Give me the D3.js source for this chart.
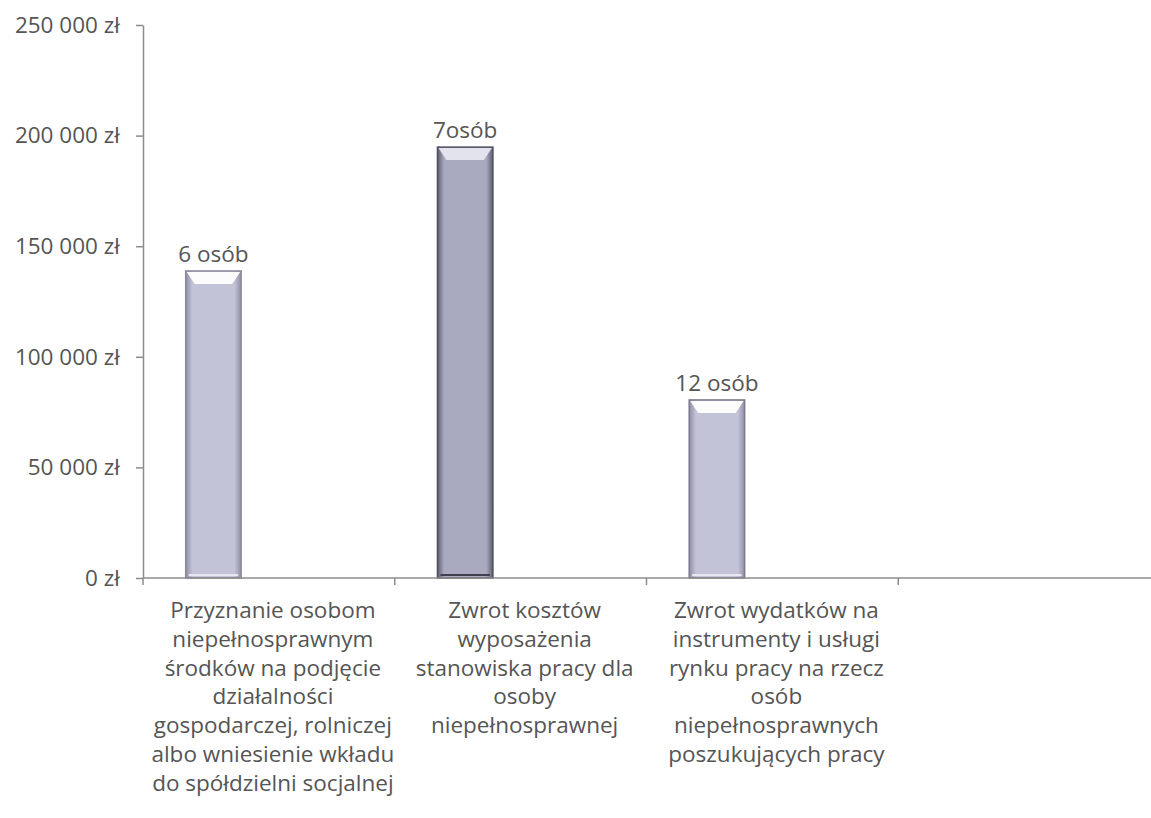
<!DOCTYPE html>
<html>
<head>
<meta charset="utf-8">
<script src="https://cdn.jsdelivr.net/npm/d3@7"></script>
<style>
  body { margin: 0; background: #fff; }
  svg text { font-family: "Open Sans", Lato, sans-serif; fill: #555; }
</style>
</head>
<body>
<div id="chart"></div>
<script>
// dane
var categories = ["kat1", "kat2", "kat3", "kat4"];
var categoryLines = [
  ["Przyznanie osobom", "niepełnosprawnym", "środków na podjęcie", "działalności", "gospodarczej, rolniczej", "albo wniesienie wkładu", "do spółdzielni socjalnej"],
  ["Zwrot kosztów", "wyposażenia", "stanowiska pracy dla", "osoby", "niepełnosprawnej"],
  ["Zwrot wydatków na", "instrumenty i usługi", "rynku pracy na rzecz", "osób", "niepełnosprawnych", "poszukujących pracy"],
  []
];
var amounts = [138800, 194800, 80500, null];
var barLabels = ["6 osób", "7osób", "12 osób", ""];
var yTicks = [0, 50000, 100000, 150000, 200000, 250000];
var series = ["s1", "s2", "s3"];   // grupa słupków jak w Excelu, rysowana tylko pierwsza seria

var W = 1151, H = 818;
var x0 = 143, x1 = 1150, yBottom = 578, yTop = 25;

var svg = d3.select("#chart").append("svg").attr("width", W).attr("height", H);

var defs = svg.append("defs");
function barGradient(id, edge, mid) {
  var g = defs.append("linearGradient").attr("id", id).attr("x1", 0).attr("x2", 1).attr("y1", 0).attr("y2", 0);
  g.append("stop").attr("offset", "0%").attr("stop-color", edge);
  g.append("stop").attr("offset", "12%").attr("stop-color", mid);
  g.append("stop").attr("offset", "88%").attr("stop-color", mid);
  g.append("stop").attr("offset", "100%").attr("stop-color", edge);
}
barGradient("gLight", "#8e8ea4", "#c3c3d8");
barGradient("gDark", "#5e5e70", "#a9a9c0");
var barFill = ["url(#gLight)", "url(#gDark)", "url(#gLight)", "url(#gLight)"];
var barStroke = ["#8a8a9c", "#4e4e5e", "#7a7a8c", "#8a8a9c"];

var x = d3.scaleBand().domain(categories).range([x0, x1]);
var xs = d3.scaleBand().domain(series).range([0, x.bandwidth()]).paddingOuter(0.77);
var y = d3.scaleLinear().domain([0, 250000]).range([yBottom, yTop]);

var fmt = function(v) { return d3.format(",")(v).replace(/,/g, " ") + " zł"; };

// oś Y
var yAxis = svg.append("g")
  .attr("transform", "translate(" + x0 + ",0)")
  .call(d3.axisLeft(y).tickValues(yTicks).tickFormat(fmt).tickSize(7).tickPadding(16).tickSizeOuter(0));
yAxis.select(".domain").attr("stroke", "#8c8c8c").attr("stroke-width", 1.5);
yAxis.selectAll(".tick line").attr("stroke", "#8c8c8c").attr("stroke-width", 1.5);
yAxis.selectAll("text").style("font-size", "22.5px").attr("fill", "#555");

// słupki
var bars = svg.append("g").selectAll("g.bar")
  .data(categories.filter(function(c, i) { return amounts[i] != null; }))
  .enter().append("g").attr("class", "bar");

bars.each(function(c) {
  var i = categories.indexOf(c);
  var g = d3.select(this);
  var bx = x(c) + xs("s1"), bw = xs.bandwidth();
  var by = y(amounts[i]), bh = y(0) - y(amounts[i]);
  g.append("rect")
    .attr("x", bx).attr("y", by).attr("width", bw).attr("height", bh)
    .attr("fill", barFill[i]).attr("stroke", barStroke[i]).attr("stroke-width", 1.5);
  // górna faseta (efekt wypukłości)
  var bev = 9;
  g.append("path")
    .attr("d", "M" + (bx + 1) + "," + (by + 1) + "H" + (bx + bw - 1) + "L" + (bx + bw - bev) + "," + (by + bev + 4) + "H" + (bx + bev) + "Z")
    .attr("fill", i === 1 ? "#e6e6f0" : "#ffffff").attr("opacity", 0.95);
  g.append("line")
    .attr("x1", bx + 3).attr("x2", bx + bw - 3).attr("y1", y(0) - 3).attr("y2", y(0) - 3)
    .attr("stroke", i === 1 ? "#3e3e4c" : "#e8e8f2").attr("stroke-width", 2);
  g.append("text")
    .attr("x", bx + bw / 2).attr("y", by - 9)
    .attr("text-anchor", "middle").style("font-size", "22.5px")
    .text(barLabels[i]);
});

// oś X
var xAxisG = svg.append("g");
xAxisG.append("line")
  .attr("x1", x0).attr("x2", W).attr("y1", y(0)).attr("y2", y(0))
  .attr("stroke", "#8c8c8c").attr("stroke-width", 1.5);
var bounds = categories.map(function(c) { return x(c); });
xAxisG.selectAll("line.tk").data(bounds).enter().append("line").attr("class", "tk")
  .attr("x1", function(d) { return d; }).attr("x2", function(d) { return d; })
  .attr("y1", y(0)).attr("y2", y(0) + 7)
  .attr("stroke", "#8c8c8c").attr("stroke-width", 1.5);

var lab = xAxisG.selectAll("text.cat").data(categories).enter().append("text")
  .attr("class", "cat")
  .attr("text-anchor", "middle")
  .attr("x", function(c) { return x(c) + x.bandwidth() / 2 + 4; })
  .attr("y", y(0) + 40)
  .style("font-size", "22.5px");
lab.each(function(c, i) {
  var t = d3.select(this);
  categoryLines[i].forEach(function(line, k) {
    t.append("tspan").attr("x", x(c) + x.bandwidth() / 2 + 4).attr("dy", k === 0 ? 0 : 28.8).text(line);
  });
});
</script>
</body>
</html>
